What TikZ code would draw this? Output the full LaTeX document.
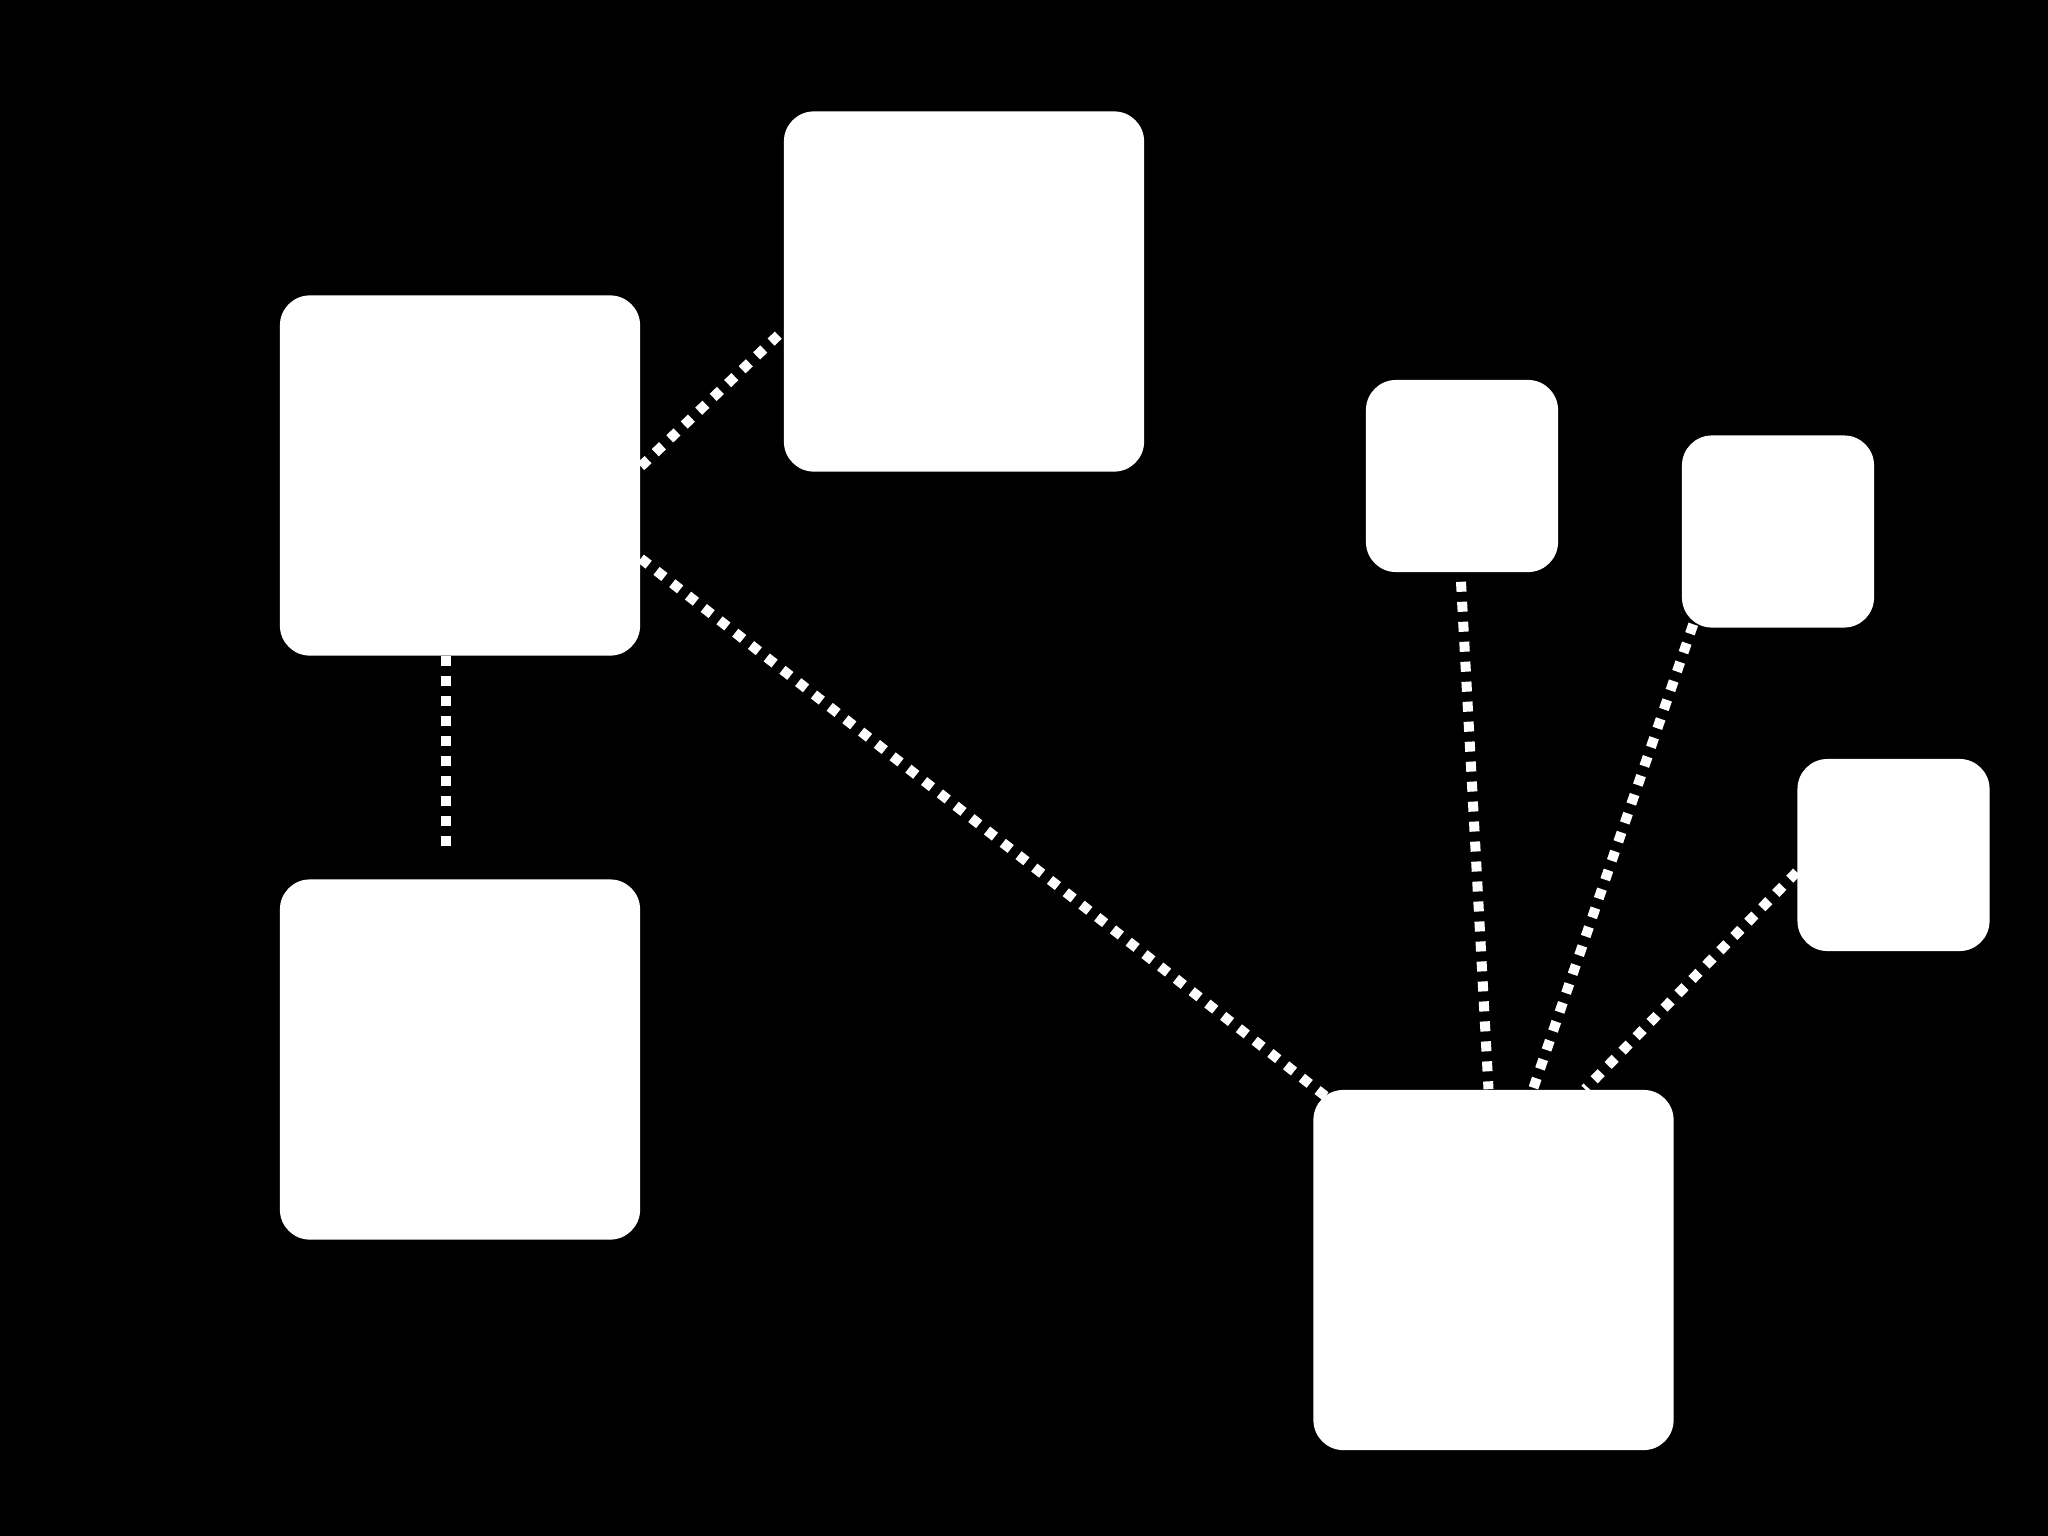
\documentclass[tikz,border=0pt]{standalone}
\usetikzlibrary{calc,backgrounds}
\begin{document}
\begin{tikzpicture}[x=0.01cm,y=-0.01cm,
  box/.style={rectangle,rounded corners=0.3cm,fill=white,draw=none,inner sep=0pt},
  bigbox/.style={box,minimum width=3.6cm,minimum height=3.6cm},
  smallbox/.style={box,minimum width=1.92cm,minimum height=1.92cm},
  link/.style={draw=white,line width=0.1cm,dash pattern=on 0.1cm off 0.1cm}]
\useasboundingbox (0,0) rectangle (2048,1536);
\node[bigbox] (A) at (460,475.5) {};
\node[bigbox] (B) at (964,291.5) {};
\node[bigbox] (C) at (460,1059.5) {};
\node[bigbox] (D) at (1493.5,1270) {};
\node[smallbox] (E) at (1462,476) {};
\node[smallbox] (F) at (1778,531.5) {};
\node[smallbox] (G) at (1893.5,855) {};
\begin{pgfonlayer}{background}
\fill[black] (0,0) rectangle (2048,1536);
\draw[link] ($(A.east)+(0,-9)$) -- ($(B.west)+(0,39)$);
\draw[link] ($(A.east)+(0,83)$) -- ($(D.north west)+(14,8)$);
\draw[link] ($(A.south)+(-14,0)$) -- ($(C.north)+(-14,-30)$);
\draw[link] ($(E.south)+(-1,9)$) -- ($(D.north)+(-5,0)$);
\draw[link] ($(F.south west)+(12,-4)$) -- ($(D.north)+(39.5,0)$);
\draw[link] ($(G.west)+(0,17)$) -- ($(D.north)+(91.5,0)$);
\end{pgfonlayer}
\end{tikzpicture}
\end{document}
